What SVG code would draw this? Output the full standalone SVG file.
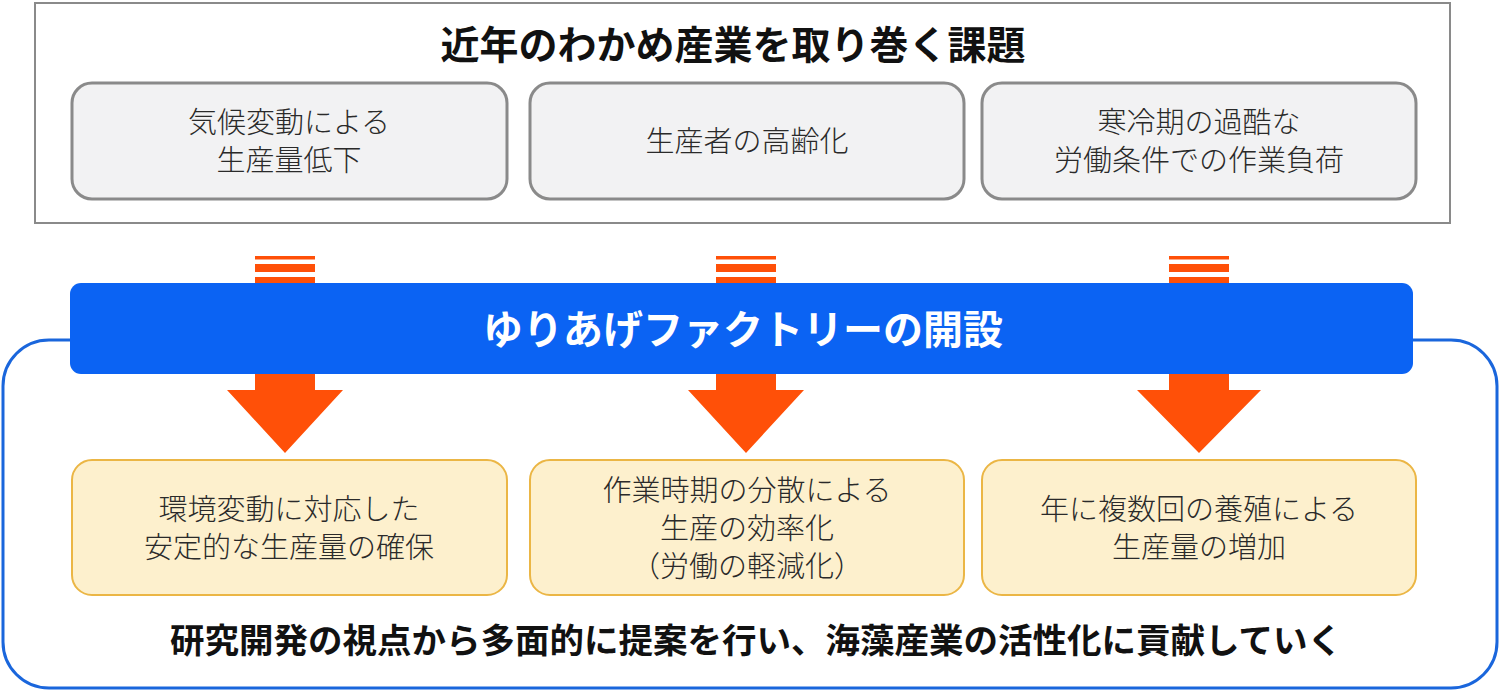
<svg xmlns="http://www.w3.org/2000/svg" width="1500" height="692" viewBox="0 0 1500 692">
<defs>
<style>
text{font-family:"Noto Sans CJK JP","Noto Sans CJK SC",sans-serif;text-anchor:middle}
.issue rect{fill:#f2f2f3;stroke:#8a8a8a;stroke-width:3}
.issue text{font-size:29px;fill:#2a2a2a;font-weight:300}
.result rect{fill:#fdf0cd;stroke:#ebb645;stroke-width:2}
.result text{font-size:29px;fill:#2a2a2a;font-weight:300}
.arrow{fill:#ff5008}
</style>
</defs>
<rect width="1500" height="692" fill="#ffffff"/>
<g id="issues-frame">
<rect x="35" y="3" width="1415" height="220" fill="#ffffff" stroke="#8a8a8a" stroke-width="2"/>
<text x="733" y="59" font-size="39" font-weight="700" fill="#111">近年のわかめ産業を取り巻く課題</text>
</g>
<g id="issue1" class="issue">
<rect x="72" y="83" width="435" height="116" rx="20"/>
<text x="289" y="133">気候変動による</text>
<text x="289" y="171">生産量低下</text>
</g>
<g id="issue2" class="issue">
<rect x="530" y="83" width="434" height="116" rx="20"/>
<text x="747" y="152">生産者の高齢化</text>
</g>
<g id="issue3" class="issue">
<rect x="982" y="83" width="434" height="116" rx="20"/>
<text x="1199" y="133">寒冷期の過酷な</text>
<text x="1199" y="171">労働条件での作業負荷</text>
</g>
<g id="outcome-frame">
<rect x="3" y="340" width="1494" height="348" rx="46" fill="none" stroke="#1a66dc" stroke-width="3"/>
<text x="756" y="653" font-size="34.5" font-weight="700" fill="#111">研究開発の視点から多面的に提案を行い、海藻産業の活性化に貢献していく</text>
</g>
<g id="connectors">
<g class="arrow">
<rect x="255" y="256" width="60" height="3.5"/>
<rect x="255" y="264" width="60" height="8"/>
<rect x="255" y="277" width="60" height="10"/>
<polygon points="255,370 315,370 315,390 343,390 285,453 227,390 255,390"/>
<rect x="716" y="256" width="60" height="3.5"/>
<rect x="716" y="264" width="60" height="8"/>
<rect x="716" y="277" width="60" height="10"/>
<polygon points="716,370 776,370 776,390 804,390 746,453 688,390 716,390"/>
<rect x="1169" y="256" width="60" height="3.5"/>
<rect x="1169" y="264" width="60" height="8"/>
<rect x="1169" y="277" width="60" height="10"/>
<polygon points="1169,370 1229,370 1229,390 1261,390 1199,453 1137,390 1169,390"/>
</g>
</g>
<g id="factory">
<rect x="70" y="283" width="1343" height="91" rx="11" fill="#0b63f3"/>
<text x="743" y="344" font-size="40" font-weight="700" fill="#ffffff">ゆりあげファクトリーの開設</text>
</g>
<g id="result1" class="result">
<rect x="72" y="460" width="435" height="135" rx="20"/>
<text x="289" y="520">環境変動に対応した</text>
<text x="289" y="558">安定的な生産量の確保</text>
</g>
<g id="result2" class="result">
<rect x="530" y="460" width="434" height="135" rx="20"/>
<text x="747" y="501">作業時期の分散による</text>
<text x="747" y="539">生産の効率化</text>
<text x="747" y="577">（労働の軽減化）</text>
</g>
<g id="result3" class="result">
<rect x="982" y="460" width="434" height="135" rx="20"/>
<text x="1199" y="520">年に複数回の養殖による</text>
<text x="1199" y="558">生産量の増加</text>
</g>
</svg>
